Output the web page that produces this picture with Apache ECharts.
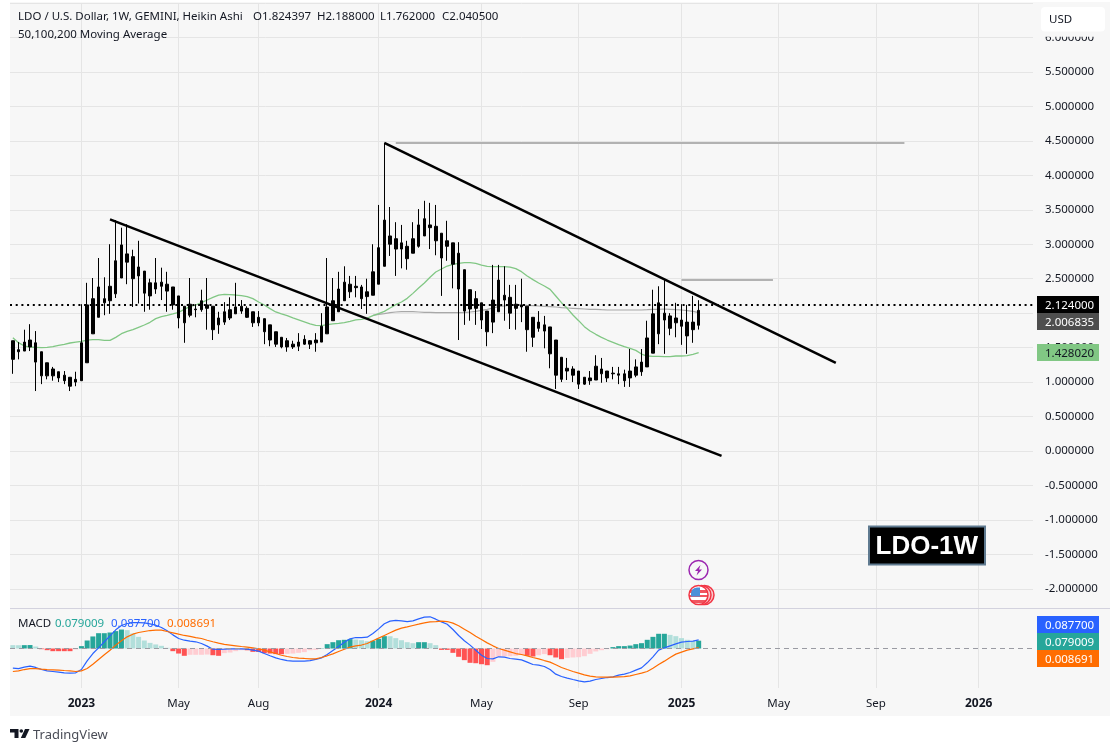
<!DOCTYPE html>
<html>
<head>
<meta charset="utf-8">
<title>LDO-1W</title>
<script src="https://cdn.jsdelivr.net/npm/echarts@6/dist/echarts.min.js"></script>
<style>
  html, body { margin: 0; padding: 0; background: #fff; }
  #panel { position: absolute; left: 10px; top: 2px; width: 1100px; height: 714px; background: #f7f7f7; }
  #chart { position: absolute; left: 0; top: 0; width: 1120px; height: 752px; }
</style>
</head>
<body>
<div id="panel"></div>
<div id="chart"></div>
<script>
const opens = [1.60,1.47,1.45,1.51,1.57,1.44,1.28,1.19,1.15,1.10,
  1.07,1.00,1.02,1.28,1.70,1.94,2.15,2.18,2.28,2.51,
  2.86,2.82,2.54,2.61,2.44,2.35,2.39,2.42,2.38,2.25,
  2.10,1.97,2.05,2.05,2.12,2.10,1.83,1.87,1.93,1.99,
  2.03,2.07,2.02,1.94,1.92,1.83,1.73,1.65,1.60,1.55,
  1.52,1.55,1.60,1.57,1.58,1.70,1.89,2.02,2.18,2.31,
  2.37,2.38,2.24,2.26,2.42,2.68,3.12,3.08,3.02,2.97,
  2.87,2.97,3.12,3.28,3.26,3.16,2.97,3.02,2.87,2.63,
  2.34,2.21,2.15,2.03,1.87,2.02,2.26,2.23,2.13,2.09,
  2.10,1.94,1.78,1.83,1.80,1.61,1.36,1.16,1.19,1.16,
  1.07,1.02,1.03,1.19,1.16,1.12,1.12,1.12,1.06,1.10,
  1.15,1.22,1.42,1.70,2.00,1.96,1.93,1.90,1.87,1.76,
  1.824397]
const closes = [1.33,1.44,1.58,1.61,1.29,1.09,1.09,1.09,1.06,1.02,
  0.94,1.04,1.57,2.12,2.21,2.38,2.21,2.39,2.76,2.99,
  2.74,2.50,2.67,2.29,2.25,2.44,2.45,2.32,2.12,1.93,
  1.86,2.13,2.06,2.18,2.07,1.76,1.93,2.02,2.05,2.09,
  2.10,1.94,1.86,1.86,1.73,1.61,1.55,1.51,1.51,1.51,
  1.58,1.62,1.55,1.61,1.81,2.09,2.18,2.35,2.45,2.42,
  2.39,2.21,2.31,2.60,2.95,3.35,3.00,2.93,2.93,2.79,
  3.08,3.28,3.37,3.24,3.05,2.80,3.05,2.71,2.35,2.03,
  2.06,2.07,1.90,1.73,2.19,2.48,2.19,2.00,2.07,2.12,
  1.76,1.65,1.87,1.74,1.41,1.10,1.04,1.20,1.10,0.97,
  0.97,1.06,1.23,1.12,1.06,1.13,1.10,1.02,1.16,1.22,
  1.29,1.64,1.99,2.15,1.90,1.78,1.86,1.81,1.67,1.87,
  2.0405]
const lows = [1.12,1.33,1.45,1.45,0.87,0.97,1.04,1.02,1.00,0.97,
  0.87,0.94,1.02,1.28,1.70,1.94,1.97,1.99,2.22,2.51,
  2.42,2.09,2.14,2.02,2.05,2.28,2.19,2.02,2.05,1.78,
  1.57,1.94,1.94,2.02,1.76,1.61,1.70,1.83,1.90,1.99,
  1.99,1.93,1.80,1.81,1.55,1.52,1.51,1.49,1.44,1.48,
  1.45,1.54,1.48,1.44,1.58,1.70,1.89,2.02,2.18,2.22,
  2.23,2.06,1.99,2.26,2.42,2.68,2.83,2.54,2.65,2.63,
  2.87,2.95,3.12,2.93,2.84,2.25,2.76,2.36,1.61,1.83,
  1.89,1.83,1.77,1.52,1.71,2.02,1.89,1.77,1.76,1.87,
  1.44,1.51,1.73,1.49,1.20,0.90,1.00,1.03,1.00,0.90,
  0.96,0.96,1.03,0.99,1.00,1.04,0.97,0.93,0.93,1.07,
  1.09,1.22,1.42,1.55,1.41,1.68,1.65,1.54,1.41,1.57,
  1.762]
const highs = [1.60,1.58,1.76,1.84,1.74,1.44,1.28,1.22,1.15,1.16,
  1.07,1.15,2.13,2.44,2.51,2.80,2.52,3.00,3.35,3.24,
  3.29,2.92,3.05,2.61,2.50,2.80,2.66,2.60,2.38,2.25,
  2.10,2.51,2.13,2.34,2.51,2.10,2.02,2.16,2.23,2.44,
  2.19,2.10,2.02,2.03,1.92,1.83,1.73,1.65,1.64,1.60,
  1.71,1.68,1.61,1.71,2.00,2.80,2.51,2.60,2.68,2.54,
  2.54,2.41,2.50,3.00,3.57,4.47,3.54,3.32,3.28,3.05,
  3.32,3.51,3.63,3.60,3.57,3.16,3.34,3.02,3.03,2.63,
  2.34,2.32,2.15,2.03,2.70,2.70,2.68,2.41,2.41,2.50,
  2.10,1.94,2.03,1.96,1.80,1.61,1.36,1.35,1.23,1.16,
  1.07,1.16,1.39,1.35,1.16,1.22,1.22,1.18,1.48,1.33,
  1.48,1.89,2.34,2.39,2.48,2.00,2.15,2.13,2.12,2.25,
  2.188]

const ma50 = [1.644,1.572,1.523,1.509,1.504,1.499,1.504,1.514,1.533,1.548,
  1.567,1.581,1.591,1.610,1.615,1.615,1.606,1.606,1.649,1.702,
  1.736,1.760,1.794,1.828,1.867,1.920,1.949,1.968,1.988,2.012,
  2.055,2.099,2.118,2.152,2.191,2.229,2.263,2.273,2.268,2.263,
  2.254,2.239,2.210,2.162,2.118,2.065,2.017,1.988,1.963,1.930,
  1.901,1.872,1.843,1.823,1.818,1.833,1.843,1.852,1.862,1.881,
  1.901,1.910,1.929,1.963,1.992,2.026,2.075,2.123,2.162,2.215,
  2.287,2.365,2.437,2.520,2.597,2.640,2.684,2.708,2.723,2.732,
  2.732,2.723,2.698,2.679,2.674,2.674,2.674,2.669,2.645,2.602,
  2.539,2.486,2.437,2.394,2.345,2.249,2.152,2.070,1.973,1.891,
  1.804,1.741,1.693,1.649,1.610,1.577,1.543,1.514,1.490,1.460,
  1.407,1.378,1.373,1.373,1.369,1.369,1.378,1.378,1.383,1.402,
  1.428020]
// MA100 only shows up from the start of 2024
const ma100 = Array(63).fill(null).concat([1.968,1.983,1.992,2.007,2.017,2.021,2.021,
  2.021,2.017,2.012,2.012,2.007,2.007,2.007,2.007,2.007,2.007,
  2.017,2.026,2.041,2.055,2.075,2.094,2.104,2.113,2.118,2.118,
  2.113,2.109,2.104,2.099,2.094,2.089,2.080,2.075,2.070,2.065,
  2.060,2.055,2.055,2.050,2.046,2.046,2.046,2.046,2.046,2.046,
  2.046,2.050,2.055,2.055,2.060,2.055,2.050,2.046,2.036,2.026,
  2.006835])

const macdLine = [-0.199,-0.203,-0.189,-0.179,-0.192,-0.213,-0.226,-0.233,-0.240,-0.247,
  -0.250,-0.246,-0.213,-0.125,-0.051,0.007,0.068,0.128,0.189,0.233,
  0.253,0.263,0.263,0.260,0.250,0.236,0.213,0.179,0.138,0.101,
  0.084,0.074,0.068,0.051,0.024,-0.007,-0.010,-0.007,-0.003,-0.003,
  -0.003,-0.007,-0.017,-0.027,-0.051,-0.074,-0.095,-0.111,-0.122,-0.128,
  -0.128,-0.128,-0.122,-0.111,-0.095,-0.061,-0.020,0.020,0.064,0.098,
  0.111,0.111,0.115,0.152,0.199,0.250,0.277,0.284,0.280,0.273,
  0.280,0.300,0.317,0.321,0.297,0.270,0.246,0.192,0.132,0.078,
  0.034,-0.017,-0.068,-0.101,-0.105,-0.084,-0.088,-0.101,-0.108,-0.115,
  -0.138,-0.162,-0.169,-0.182,-0.213,-0.260,-0.284,-0.300,-0.314,-0.327,
  -0.338,-0.331,-0.314,-0.304,-0.294,-0.287,-0.270,-0.260,-0.243,-0.219,
  -0.196,-0.145,-0.084,-0.017,0.007,0.027,0.047,0.064,0.071,0.074,
  0.0877]
const signalLine = [-0.233,-0.226,-0.213,-0.203,-0.203,-0.209,-0.213,-0.216,-0.219,-0.223,
  -0.226,-0.233,-0.226,-0.203,-0.159,-0.111,-0.064,-0.017,0.034,0.078,
  0.118,0.145,0.162,0.172,0.182,0.186,0.186,0.172,0.159,0.145,
  0.132,0.122,0.111,0.101,0.084,0.068,0.054,0.041,0.034,0.027,
  0.020,0.014,0.007,-0.003,-0.017,-0.034,-0.051,-0.068,-0.081,-0.091,
  -0.098,-0.101,-0.105,-0.105,-0.091,-0.074,-0.054,-0.030,-0.007,0.014,
  0.027,0.035,0.051,0.078,0.105,0.132,0.159,0.186,0.206,0.219,
  0.233,0.246,0.260,0.270,0.273,0.277,0.273,0.257,0.230,0.196,
  0.162,0.125,0.091,0.057,0.027,0.000,-0.017,-0.034,-0.051,-0.061,
  -0.074,-0.091,-0.105,-0.122,-0.138,-0.165,-0.192,-0.213,-0.233,-0.250,
  -0.267,-0.280,-0.287,-0.290,-0.290,-0.290,-0.287,-0.284,-0.277,-0.263,
  -0.250,-0.233,-0.199,-0.162,-0.128,-0.091,-0.057,-0.037,-0.017,-0.003,
  0.008691]
const histogram = [0.034,0.033,0.034,0.035,0.020,-0.007,-0.017,-0.027,-0.027,-0.027,
  -0.027,-0.010,0.024,0.081,0.122,0.155,0.155,0.162,0.176,0.192,
  0.186,0.152,0.118,0.081,0.057,0.041,0.027,0.007,-0.027,-0.051,
  -0.074,-0.064,-0.064,-0.064,-0.061,-0.068,-0.074,-0.047,-0.041,-0.027,
  -0.017,-0.018,-0.034,-0.035,-0.047,-0.051,-0.057,-0.058,-0.054,-0.051,
  -0.044,-0.037,-0.017,-0.014,0.003,0.044,0.064,0.084,0.088,0.095,
  0.091,0.084,0.074,0.078,0.098,0.125,0.124,0.105,0.084,0.064,
  0.054,0.064,0.064,0.054,0.034,-0.014,-0.014,-0.044,-0.084,-0.118,
  -0.145,-0.149,-0.159,-0.169,-0.135,-0.084,-0.081,-0.078,-0.074,-0.064,
  -0.074,-0.081,-0.068,-0.057,-0.068,-0.091,-0.108,-0.095,-0.091,-0.088,
  -0.078,-0.054,-0.030,-0.017,-0.007,0.014,0.024,0.024,0.030,0.044,
  0.054,0.088,0.118,0.149,0.149,0.138,0.125,0.105,0.088,0.076,
  0.079009]

// drawn trend lines: [week index, price]
const trendA = [[17, 3.36], [124, -0.07]]
const trendB = [[65, 4.47], [144, 1.28]]
const levelA = [[67, 4.468], [156, 4.468]]
const levelB = [[117, 2.48], [133, 2.48]]

const lastPrice = 2.124
const priceTicks = [-2, -1.5, -1, -0.5, 0, 0.5, 1, 1.5, 2, 2.5, 3, 3.5, 4, 4.5, 5, 5.5, 6]
const priceGrid = [...priceTicks, 6.5]
const tickDates = ['2023-01-02', '2023-05-01', '2023-08-07', '2024-01-01', '2024-05-06', '2024-09-02', '2025-01-06', '2025-05-05', '2025-09-01', '2026-01-05']
const tickLabels = ['2023', 'May', 'Aug', '2024', 'May', 'Sep', '2025', 'May', 'Sep', '2026']

const weeks = []
for (let i = 0; i < 179; i++) {
  weeks.push(new Date(Date.UTC(2022, 9, 10 + i * 7)).toISOString().slice(0, 10))
}

const FONT = '"Noto Sans", sans-serif'
const INK = '#131722'
const isTick = (idx, val) => tickDates.indexOf(val) >= 0

// same colouring rule as the TradingView histogram
let prevColor = '#b2dfdb'
const histBars = histogram.map((v, i) => {
  const prev = i ? histogram[i - 1] : v
  if (v !== prev) {
    if (v >= 0) prevColor = v > prev ? '#26a69a' : '#b2dfdb'
    else prevColor = v < prev ? '#ff5252' : '#ffcdd2'
  }
  return { value: v, itemStyle: { color: prevColor } }
})

const lineSeries = (name, data, color, width) => ({
  name,
  type: 'line',
  data,
  symbol: 'none',
  silent: true,
  animation: false,
  lineStyle: { color, width },
  xAxisIndex: 0,
  yAxisIndex: 0,
  z: 4,
})

const txt = (x, y, text, fill, extra) => ({
  type: 'text',
  z: 100,
  silent: true,
  style: { x, y, text, fill, font: '11.5px ' + FONT, textVerticalAlign: 'middle', ...extra },
})

const badge = (y, text, bg, fill) => ({
  type: 'group',
  z: 100,
  children: [
    { type: 'rect', z: 100, shape: { x: 1037, y, width: 62, height: 17 }, style: { fill: bg } },
    txt(1045, y + 9.5, text, fill),
  ],
})

const chart = echarts.init(document.getElementById('chart'), null, { renderer: 'canvas' })

chart.setOption({
  animation: false,
  backgroundColor: 'transparent',
  grid: [
    { left: 10, top: 3, width: 1023, height: 605 },
    { left: 10, top: 609, width: 1023, height: 79 },
  ],
  xAxis: [
    {
      type: 'category',
      gridIndex: 0,
      data: weeks,
      axisLine: { show: false },
      axisTick: { show: false },
      axisLabel: { show: false },
      splitLine: { show: true, interval: isTick, alignWithLabel: true, lineStyle: { color: '#e5e5e5', width: 1 } },
    },
    {
      type: 'category',
      gridIndex: 1,
      data: weeks,
      axisLine: { show: false, onZero: false },
      axisTick: { show: false },
      axisLabel: {
        interval: isTick,
        margin: 10,
        color: INK,
        fontFamily: FONT,
        fontSize: 11.5,
        formatter: (val) => {
          const lab = tickLabels[tickDates.indexOf(val)]
          return lab.length === 4 ? '{y|' + lab + '}' : lab
        },
        rich: { y: { fontWeight: 'bold', fontSize: 12, fontFamily: FONT, color: INK } },
      },
      splitLine: { show: true, interval: isTick, alignWithLabel: true, lineStyle: { color: '#e5e5e5', width: 1 } },
    },
  ],
  yAxis: [
    {
      type: 'value',
      gridIndex: 0,
      position: 'right',
      min: -2.278,
      max: 6.5,
      axisLine: { show: false },
      axisTick: { show: false, customValues: priceGrid },
      axisLabel: {
        customValues: priceTicks,
        margin: 12,
        padding: [2, 0, 0, 0],
        color: INK,
        fontFamily: FONT,
        fontSize: 11.5,
        formatter: (v) => v.toFixed(6),
      },
      splitLine: { show: true, lineStyle: { color: '#e5e5e5', width: 1 } },
    },
    {
      type: 'value',
      gridIndex: 1,
      position: 'right',
      min: -0.4,
      max: 0.4,
      axisLine: { show: false },
      axisTick: { show: false },
      axisLabel: { show: false },
      splitLine: { show: false },
    },
  ],
  series: [
    lineSeries('MA100', ma100, '#a8a8a8', 1.2),
    lineSeries('MA50', ma50, '#81c784', 1.3),
    {
      name: 'LDO',
      type: 'candlestick',
      xAxisIndex: 0,
      yAxisIndex: 0,
      barWidth: 3,
      z: 5,
      silent: true,
      data: opens.map((o, i) => [o, closes[i], lows[i], highs[i]]),
      itemStyle: { color: '#000', color0: '#000', borderColor: '#000', borderColor0: '#000', borderWidth: 1 },
      markLine: {
        silent: true,
        symbol: 'none',
        label: { show: false },
        lineStyle: { color: '#000', width: 2, type: [2, 3.7] },
        data: [{ yAxis: lastPrice }],
      },
    },
    { ...lineSeries('Level A', levelA, '#b2b2b2', 2), z: 6 },
    { ...lineSeries('Level B', levelB, '#b2b2b2', 2), z: 6 },
    { ...lineSeries('Trend A', trendA, '#000', 2.5), z: 6 },
    { ...lineSeries('Trend B', trendB, '#000', 2.5), z: 6 },
    {
      name: 'Histogram',
      type: 'bar',
      xAxisIndex: 1,
      yAxisIndex: 1,
      barWidth: 5,
      silent: true,
      data: histBars,
      markLine: {
        silent: true,
        symbol: 'none',
        label: { show: false },
        lineStyle: { color: '#9a9ba3', width: 1, type: [5, 4] },
        data: [{ yAxis: 0 }],
      },
    },
    { ...lineSeries('MACD', macdLine, '#2962ff', 1.2), xAxisIndex: 1, yAxisIndex: 1 },
    { ...lineSeries('Signal', signalLine, '#ff6d00', 1.2), xAxisIndex: 1, yAxisIndex: 1 },
  ],
  graphic: [
    // pane separator
    { type: 'rect', z: 90, shape: { x: 10, y: 608, width: 1100, height: 1 }, style: { fill: '#d3d2de' } },

    // header
    txt(18, 17, 'LDO / U.S. Dollar, 1W, GEMINI, Heikin Ashi', INK),
    txt(253, 17, 'O1.824397', INK),
    txt(317, 17, 'H2.188000', INK),
    txt(380, 17, 'L1.762000', INK),
    txt(442, 17, 'C2.040500', INK),
    txt(18, 34.5, '50,100,200 Moving Average', INK),

    // USD box, it hides the top of the 6.000000 label
    { type: 'rect', z: 94, shape: { x: 1037, y: 2, width: 73, height: 34.7 }, style: { fill: '#f7f7f7' } },
    { type: 'rect', z: 95, shape: { x: 1041, y: 7, width: 64, height: 24.5, r: 4 }, style: { fill: '#fff' } },
    txt(1049, 20, 'USD', INK),

    // price tags
    badge(296, '2.124000', '#000', '#fff'),
    badge(313, '2.006835', '#4e4e4e', '#fff'),
    badge(344, '1.428020', '#81c784', INK),
    badge(616, '0.087700', '#2962ff', '#fff'),
    badge(633, '0.079009', '#26a69a', '#fff'),
    badge(650, '0.008691', '#ff6d00', '#fff'),

    // MACD legend
    txt(18, 624, 'MACD', INK),
    txt(55, 624, '0.079009', '#26a69a'),
    txt(111, 624, '0.087700', '#2962ff'),
    txt(167, 624, '0.008691', '#ff6d00'),

    // LDO-1W label
    { type: 'rect', z: 95, shape: { x: 869, y: 526.5, width: 116, height: 38 }, style: { fill: '#000', stroke: '#5f7a90', lineWidth: 2 } },
    txt(875.5, 546.5, 'LDO-1W', '#fff', { font: 'bold 26px "Liberation Sans", sans-serif' }),

    // event icons
    { type: 'circle', z: 95, shape: { cx: 698.5, cy: 570, r: 9.5 }, style: { fill: '#f7f7f7', stroke: '#9c27b0', lineWidth: 1.5 } },
    { type: 'polygon', z: 96, shape: { points: [[700.5, 565], [695, 571], [698, 571], [696.5, 575.5], [702, 569.5], [699, 569.5]] }, style: { fill: '#9c27b0' } },
    { type: 'circle', z: 95, shape: { cx: 704.5, cy: 595, r: 9.5 }, style: { fill: '#f8c9cd', stroke: '#f23645', lineWidth: 1.5 } },
    { type: 'circle', z: 95, shape: { cx: 701.5, cy: 595, r: 9.5 }, style: { fill: '#f8c9cd', stroke: '#f23645', lineWidth: 1.5 } },
    {
      type: 'circle',
      z: 96,
      shape: { cx: 698.5, cy: 595, r: 9.5 },
      style: {
        stroke: '#f23645',
        lineWidth: 1.5,
        fill: {
          type: 'linear', x: 0, y: 0, x2: 0, y2: 1,
          colorStops: [
            { offset: 0, color: '#fff' }, { offset: 0.28, color: '#fff' },
            { offset: 0.28, color: '#f0555f' }, { offset: 0.38, color: '#f0555f' },
            { offset: 0.38, color: '#fff' }, { offset: 0.52, color: '#fff' },
            { offset: 0.52, color: '#f0555f' }, { offset: 0.62, color: '#f0555f' },
            { offset: 0.62, color: '#fff' }, { offset: 0.72, color: '#fff' },
            { offset: 0.72, color: '#f0555f' }, { offset: 0.88, color: '#f0555f' },
            { offset: 0.88, color: '#fff' }, { offset: 1, color: '#fff' },
          ],
        },
      },
    },
    { type: 'rect', z: 97, shape: { x: 691, y: 587.5, width: 9, height: 9, r: [6, 0, 0, 0] }, style: { fill: '#4a90d9' } },

    // TradingView logo
    { type: 'polygon', z: 95, shape: { points: [[10, 729], [18.5, 729], [18.5, 738], [14.5, 738], [14.5, 732.5], [10, 732.5]] }, style: { fill: INK } },
    { type: 'circle', z: 95, shape: { cx: 21.3, cy: 731, r: 1.8 }, style: { fill: INK } },
    { type: 'polygon', z: 95, shape: { points: [[25, 729], [29.5, 729], [25.3, 738], [20.8, 738]] }, style: { fill: INK } },
    txt(33, 735, 'TradingView', '#4a4d57', { font: '13px ' + FONT }),
  ],
})
</script>
</body>
</html>
